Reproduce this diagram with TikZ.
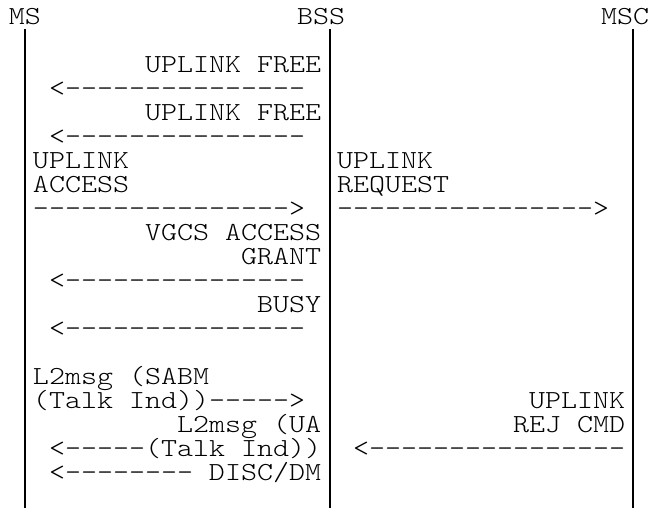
\documentclass[tikz,border=0pt]{standalone}
\usepackage{graphicx}
\newcommand\dsh[1]{\ifnum#1>0 \hbox{-}\expandafter\dsh\expandafter{\the\numexpr#1-1\relax}\fi}
\newcommand\tx[1]{\scalebox{1.1722}[1]{#1}}
\begin{document}
\begin{tikzpicture}[x=1pt,y=-1pt,
  txt/.style={anchor=base west,inner sep=0pt,outer sep=0pt,font=\fontsize{26pt}{26pt}\ttfamily\fontseries{l}\selectfont},
  life/.style={line width=2pt,black}]
\useasboundingbox (0,0) rectangle (651,508);
% headers
\node[txt] (ms)  at (9,24.5)   {\tx{MS}};
\node[txt] (bss) at (297,24.5) {\tx{BSS}};
\node[txt] (msc) at (601,24.5) {\tx{MSC}};
% lifelines
\coordinate (msTop)  at (25,29);    \coordinate (msBot)  at (25,508);
\coordinate (bssTop) at (330,29);   \coordinate (bssBot) at (330,508);
\coordinate (mscTop) at (633,29);   \coordinate (mscBot) at (633,508);
\draw[life] (msTop) -- (msBot);
\draw[life] (bssTop) -- (bssBot);
\draw[life] (mscTop) -- (mscBot);
% MS <-> BSS
\node[txt] (t2)  at (145,72.5)  {\tx{UPLINK FREE}};
\node[txt] (a3)  at (49,96.5)   {\tx{<\dsh{15}}};
\node[txt] (t4)  at (145,120.5) {\tx{UPLINK FREE}};
\node[txt] (a5)  at (49,144.5)  {\tx{<\dsh{15}}};
\node[txt] (t6)  at (33,168.5)  {\tx{UPLINK}};
\node[txt] (t7)  at (33,192.5)  {\tx{ACCESS}};
\node[txt] (a8)  at (33,216.5)  {\tx{\dsh{16}>}};
\node[txt] (t9)  at (145,240.5) {\tx{VGCS ACCESS}};
\node[txt] (t10) at (241,264.5) {\tx{GRANT}};
\node[txt] (a11) at (49,288.5)  {\tx{<\dsh{15}}};
\node[txt] (t12) at (257,312.5) {\tx{BUSY}};
\node[txt] (a13) at (49,336.5)  {\tx{<\dsh{15}}};
\node[txt] (t15) at (33,384.5)  {\tx{L2msg (SABM}};
\node[txt] (a16) at (33,408.5)  {\tx{(Talk Ind))\dsh{5}>}};
\node[txt] (t17) at (177,432.5) {\tx{L2msg (UA}};
\node[txt] (a18) at (49,456.5)  {\tx{<\dsh{5}(Talk Ind))}};
\node[txt] (a19) at (49,480.5)  {\tx{<\dsh{8} DISC/DM}};
% BSS <-> MSC
\node[txt] (r6)  at (337,168.5) {\tx{UPLINK}};
\node[txt] (r7)  at (337,192.5) {\tx{REQUEST}};
\node[txt] (r8)  at (337,216.5) {\tx{\dsh{16}>}};
\node[txt] (r16) at (529,408.5) {\tx{UPLINK}};
\node[txt] (r17) at (513,432.5) {\tx{REJ CMD}};
\node[txt] (r18) at (353,456.5) {\tx{<\dsh{16}}};
\end{tikzpicture}
\end{document}
